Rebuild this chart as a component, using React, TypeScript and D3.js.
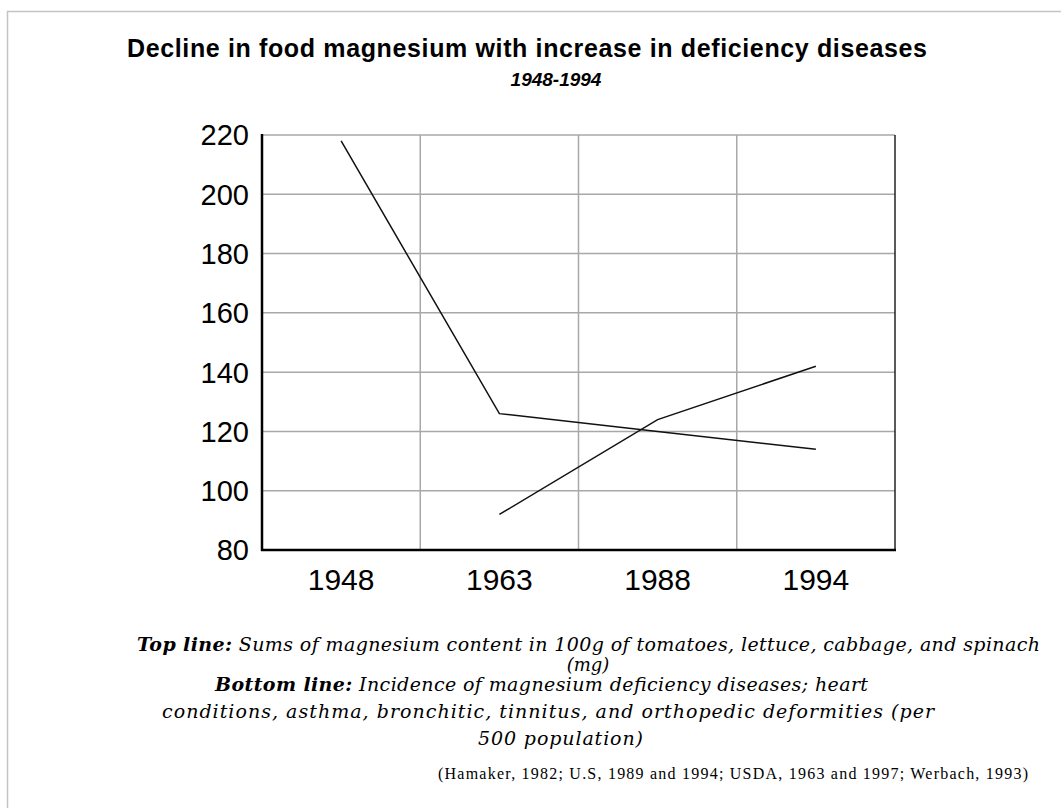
import React from 'react';
import * as d3 from 'd3';

const years = ['1948', '1963', '1988', '1994'];
const topLine = [218, 126, 120, 114];
const bottomLine = [null, 92, 124, 142];
const yTicks = [80, 100, 120, 140, 160, 180, 200, 220];

const W = 1061;
const H = 808;
const left = 262;
const right = 895;
const top = 135;
const bottom = 550;

const sans = 'Arial, "Liberation Sans", sans-serif';
const serif = '"DejaVu Serif", "Liberation Serif", serif';

const App = () => {
  const x = d3.scaleBand<string>().domain(years).range([left, right]);
  const y = d3.scaleLinear().domain([80, 220]).range([bottom, top]);
  const cx = (d: string) => (x(d) as number) + x.bandwidth() / 2;

  const line = d3
    .line<number | null>()
    .defined((d) => d != null)
    .x((_, i) => cx(years[i]))
    .y((d) => y(d as number));

  return (
    <svg
      width={W}
      height={H}
      style={{ position: 'absolute', left: 0, top: 0, background: '#fff' }}
    >
      <rect x={7.5} y={11.5} width={1200} height={1000} fill="#fff" stroke="#c4c4c4" strokeWidth={1.5} />

      <text x={127} y={57} fontFamily={sans} fontWeight="bold" fontSize={25} textLength={800} lengthAdjust="spacing">
        Decline in food magnesium with increase in deficiency diseases
      </text>
      <text x={556} y={86} fontFamily={sans} fontWeight="bold" fontStyle="italic" fontSize={19} textAnchor="middle">
        1948-1994
      </text>

      {/* grid */}
      {yTicks.slice(1).map((t) => (
        <line key={t} x1={left} x2={right} y1={y(t)} y2={y(t)} stroke="#a8a8a8" strokeWidth={1.5} />
      ))}
      {years.slice(1).map((d) => (
        <line key={d} x1={x(d)} x2={x(d)} y1={top} y2={bottom} stroke="#a8a8a8" strokeWidth={1.5} />
      ))}
      <line x1={right} x2={right} y1={top} y2={bottom} stroke="#222" strokeWidth={1.5} />
      <line x1={left} x2={left} y1={top - 1} y2={bottom + 1} stroke="#000" strokeWidth={2.5} />
      <line x1={left - 1} x2={right + 1} y1={bottom} y2={bottom} stroke="#000" strokeWidth={2.5} />

      {yTicks.map((t) => (
        <text key={t} x={249} y={y(t)} dy="0.36em" textAnchor="end" fontFamily={sans} fontSize={29}>
          {t}
        </text>
      ))}
      {years.map((d) => (
        <text key={d} x={cx(d)} y={590} textAnchor="middle" fontFamily={sans} fontSize={30}>
          {d}
        </text>
      ))}

      <path d={line(topLine) || ''} fill="none" stroke="#111" strokeWidth={1.5} />
      <path d={line(bottomLine) || ''} fill="none" stroke="#111" strokeWidth={1.5} />

      {/* notes */}
      <g fontFamily={serif} fontStyle="italic" fontSize={19} fill="#000">
        <text x={137} y={651} textLength={903} lengthAdjust="spacing">
          <tspan fontWeight="bold">Top line:</tspan> Sums of magnesium content in 100g of tomatoes, lettuce, cabbage, and spinach
        </text>
        <text x={588} y={671} textAnchor="middle" fontSize={18}>(mg)</text>
        <text x={215} y={691} textLength={653} lengthAdjust="spacing">
          <tspan fontWeight="bold">Bottom line:</tspan> Incidence of magnesium deficiency diseases; heart
        </text>
        <text x={162} y={718} textLength={772} lengthAdjust="spacing">
          conditions, asthma, bronchitic, tinnitus, and orthopedic deformities (per
        </text>
        <text x={478} y={745} textLength={165} lengthAdjust="spacing">
          500 population)
        </text>
      </g>
      <text x={438} y={779} fontFamily='"Liberation Serif", "Times New Roman", serif' fontSize={16} textLength={590} lengthAdjust="spacing">
        (Hamaker, 1982; U.S, 1989 and 1994; USDA, 1963 and 1997; Werbach, 1993)
      </text>
    </svg>
  );
};

export default App;
